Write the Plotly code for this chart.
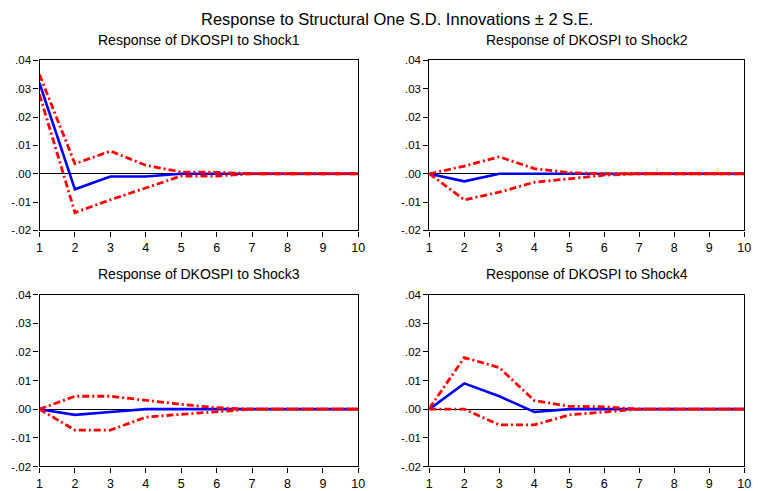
import plotly.graph_objects as go

# Impulse responses of DKOSPI (periods 1..10), with +/- 2 S.E. bands
periods = [1, 2, 3, 4, 5, 6, 7, 8, 9, 10]

shock1_resp = [0.032, -0.0055, -0.001, -0.001, 0.0, 0.0, 0.0, 0.0, 0.0, 0.0]
shock1_up = [0.035, 0.0035, 0.008, 0.003, 0.0006, 0.0005, 0.0, 0.0, 0.0, 0.0]
shock1_lo = [0.028, -0.0137, -0.0092, -0.005, -0.0008, -0.0008, 0.0, 0.0, 0.0, 0.0]

shock2_resp = [0.0, -0.0027, 0.0, 0.0, 0.0, 0.0, 0.0, 0.0, 0.0, 0.0]
shock2_up = [0.0, 0.0027, 0.006, 0.0018, 0.0004, 0.0, 0.0, 0.0, 0.0, 0.0]
shock2_lo = [0.0, -0.0092, -0.0065, -0.003, -0.0018, -0.0005, 0.0, 0.0, 0.0, 0.0]

shock3_resp = [0.0, -0.002, -0.001, 0.0, 0.0, 0.0, 0.0, 0.0, 0.0, 0.0]
shock3_up = [0.0, 0.0045, 0.0045, 0.003, 0.0017, 0.0005, 0.0, 0.0, 0.0, 0.0]
shock3_lo = [0.0, -0.0073, -0.0073, -0.0028, -0.0018, -0.0008, 0.0, 0.0, 0.0, 0.0]

shock4_resp = [0.0, 0.009, 0.0045, -0.001, 0.0, 0.0, 0.0, 0.0, 0.0, 0.0]
shock4_up = [0.0003, 0.018, 0.0145, 0.003, 0.001, 0.0008, 0.0, 0.0, 0.0, 0.0]
shock4_lo = [0.0, 0.0, -0.0055, -0.0055, -0.002, -0.001, 0.0, 0.0, 0.0, 0.0]

panel_titles = [
    "Response of DKOSPI to Shock1",
    "Response of DKOSPI to Shock2",
    "Response of DKOSPI to Shock3",
    "Response of DKOSPI to Shock4",
]
main_title = "Response to Structural One S.D. Innovations \u00b1 2 S.E."

y_tickvals = [0.04, 0.03, 0.02, 0.01, 0.0, -0.01, -0.02]
y_ticktext = [".04", ".03", ".02", ".01", ".00", "-.01", "-.02"]

W, H = 763, 491
FONT = "Liberation Sans, Arial, sans-serif"

# plot-area pixel boxes: (left, right, top, bottom)
boxes = [
    (37, 360, 56, 231),
    (432, 751, 56, 231),
    (37, 360, 297, 474),
    (432, 751, 297, 474),
]

series = [
    (shock1_resp, shock1_up, shock1_lo),
    (shock2_resp, shock2_up, shock2_lo),
    (shock3_resp, shock3_up, shock3_lo),
    (shock4_resp, shock4_up, shock4_lo),
]

fig = go.Figure()
layout = dict(
    width=W, height=H,
    margin=dict(l=0, r=0, t=0, b=0),
    paper_bgcolor="white", plot_bgcolor="white",
    showlegend=False,
    font=dict(family=FONT, color="black", size=11),
)
annotations = [
    dict(text=main_title, x=399 / W, y=1 - 13 / H, xref="paper", yref="paper",
         xanchor="center", yanchor="middle", showarrow=False,
         font=dict(family=FONT, size=16.5, color="black")),
]

band_style = dict(color="#ff0000", width=2.8, dash="7px,3px,2px,3px")

for i, ((l, r, t, b), (resp, up, lo)) in enumerate(zip(boxes, series)):
    n = i + 1
    xa = "x" if n == 1 else f"x{n}"
    ya = "y" if n == 1 else f"y{n}"
    fig.add_trace(go.Scatter(x=periods, y=resp, mode="lines", xaxis=xa, yaxis=ya,
                             line=dict(color="#0000ff", width=2.6), hoverinfo="skip"))
    fig.add_trace(go.Scatter(x=periods, y=up, mode="lines", xaxis=xa, yaxis=ya,
                             line=band_style, hoverinfo="skip"))
    fig.add_trace(go.Scatter(x=periods, y=lo, mode="lines", xaxis=xa, yaxis=ya,
                             line=band_style, hoverinfo="skip"))

    xkey = "xaxis" if n == 1 else f"xaxis{n}"
    ykey = "yaxis" if n == 1 else f"yaxis{n}"
    layout[xkey] = dict(
        domain=[l / W, r / W], anchor=ya, range=[1, 10],
        tickvals=periods, ticks="outside", ticklen=5, tickwidth=1, tickcolor="black",
        showline=True, linecolor="black", linewidth=1.2, mirror=True,
        showgrid=False, zeroline=False, tickfont=dict(size=12.5, family=FONT),
    )
    layout[ykey] = dict(
        domain=[1 - b / H, 1 - t / H], anchor=xa, range=[-0.02, 0.04],
        tickvals=y_tickvals, ticktext=y_ticktext,
        ticks="outside", ticklen=5, tickwidth=1, tickcolor="black",
        showline=True, linecolor="black", linewidth=1.2, mirror=True,
        showgrid=False, zeroline=True, zerolinecolor="black", zerolinewidth=1,
        tickfont=dict(size=11.5, family=FONT),
    )
    annotations.append(dict(
        text=panel_titles[i], x=(l + r) / 2 / W, y=1 - (t - 21) / H,
        xref="paper", yref="paper", xanchor="center", yanchor="middle",
        showarrow=False, font=dict(family=FONT, size=14, color="black"),
    ))

layout["annotations"] = annotations
fig.update_layout(**layout)
fig.write_html("out.html")
